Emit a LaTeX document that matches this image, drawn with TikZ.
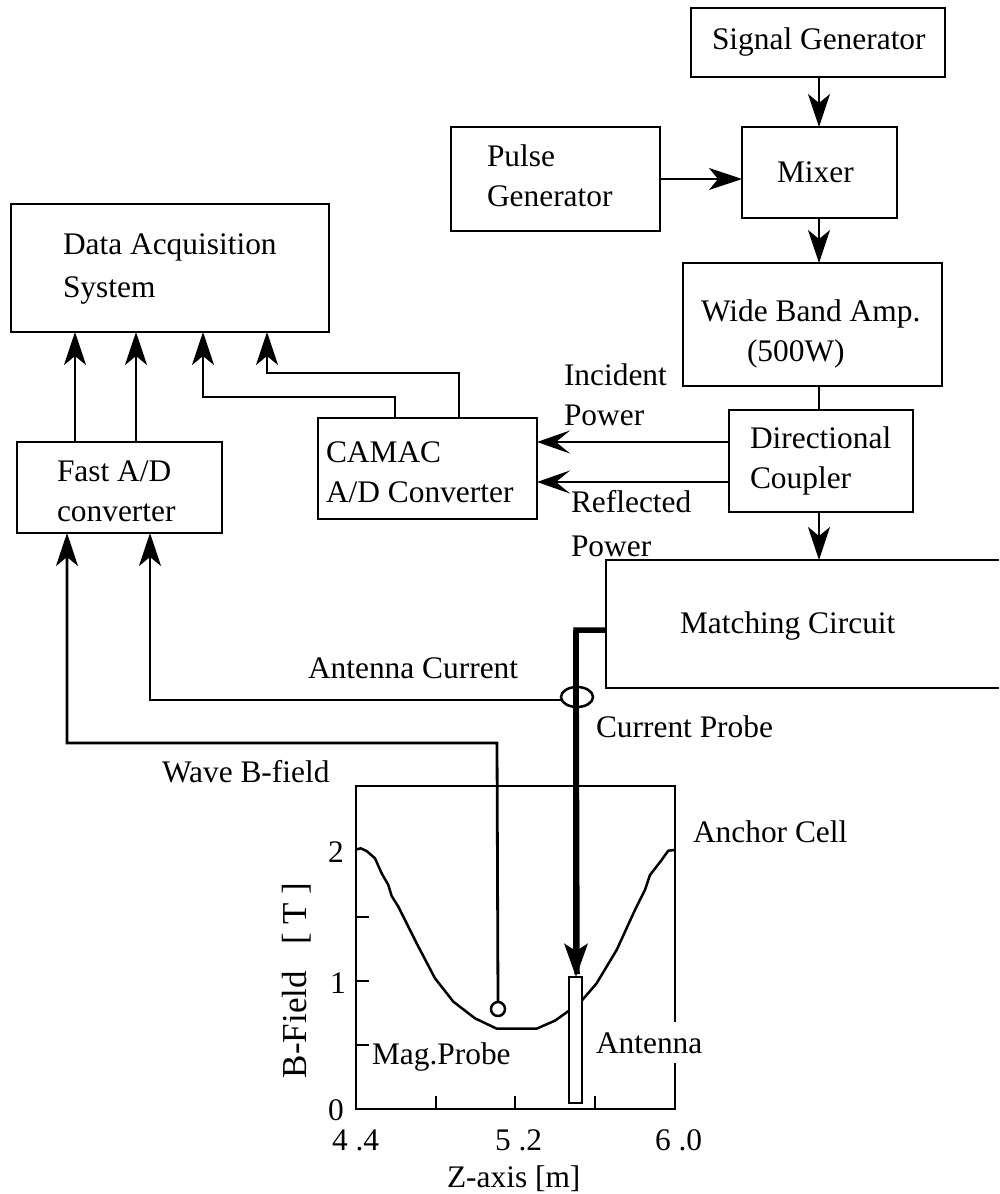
\documentclass[tikz,border=0pt]{standalone}
\usepackage{fontspec}
\setmainfont{Liberation Serif}
\usetikzlibrary{arrows.meta,shapes.geometric}
\tikzset{
  box/.style={draw,rectangle,line width=2.8pt,inner sep=0pt,outer sep=0pt},
  ghost/.style={rectangle,inner sep=0pt,outer sep=0pt},
  txt/.style={inner sep=0pt,outer sep=0pt,anchor=base west,align=left,font=\fontsize{31.4}{40}\selectfont},
  wire/.style={line width=2.8pt,line join=miter},
  arr/.style={wire,-{Stealth[length=33pt,width=22pt,inset=9pt]}},
  arrdeep/.style={wire,-{Stealth[length=33pt,width=23pt,inset=14pt]}},
  thickwire/.style={line width=5.5pt,line join=miter},
  tick/.style={line width=2.6pt},
  curve/.style={line width=2.5pt,line join=round}
}
\begin{document}
\begin{tikzpicture}[x=1pt,y=-1pt]
\useasboundingbox (0,0) rectangle (999,1194);
% boxes
\node[box,minimum width=254pt,minimum height=69pt] (sig) at (818,42.5) {};
\node[box,minimum width=155pt,minimum height=91pt] (mix) at (819.5,172.5) {};
\node[box,minimum width=209pt,minimum height=104pt] (pulse) at (555.5,179) {};
\node[box,minimum width=259pt,minimum height=123pt] (amp) at (812.5,324.5) {};
\node[box,minimum width=184pt,minimum height=102pt] (coup) at (821,461) {};
\node[ghost,minimum width=393pt,minimum height=128pt] (match) at (802.5,624) {};
\node[box,minimum width=318pt,minimum height=128pt] (daq) at (170,268) {};
\node[box,minimum width=205pt,minimum height=91pt] (fast) at (119.5,487.5) {};
\node[box,minimum width=219pt,minimum height=101pt] (cam) at (427.5,468.5) {};
\node[ghost,minimum width=319pt,minimum height=323pt] (plot) at (515.5,947.5) {};
% guide coordinates
\coordinate (spine) at (819,0);
\coordinate (inc) at (729,442);
\coordinate (ref) at (729,482);
\coordinate (f1) at (75,442);
\coordinate (f2) at (136,442);
\coordinate (c1) at (395,418);
\coordinate (c2) at (459,418);
\coordinate (d1) at (203,397);
\coordinate (d2) at (267,373);
\coordinate (in1) at (67,533);
\coordinate (in2) at (150,533);
\coordinate (b1) at (497,743);
\coordinate (b2) at (150,700);
\coordinate (m1) at (576,630);
\coordinate (gapt) at (675,1022);
\coordinate (gapb) at (675,1063);
% matching circuit (open on the right) and plot frame
\draw[wire] (match.north east) -- (match.north west) -- (match.south west) -- (match.south east);
\draw[wire] (gapb) -- (plot.south east) -- (plot.south west) -- (plot.north west) -- (plot.north east) -- (gapt);
% ticks
\draw[tick] (356,917) -- ++(13,0);
\draw[tick] (356,981) -- ++(13,0);
\draw[tick] (356,1045) -- ++(13,0);
\draw[tick] (436,1109) -- ++(0,-13);
\draw[tick] (515,1109) -- ++(0,-13);
\draw[tick] (595,1109) -- ++(0,-13);
% field curve
\begin{scope}[shift={(340,770)},x=0.3333pt,y=-0.3333pt]
\draw[curve] (50,238) -- (62,235) -- (80,243) -- (105,265) -- (125,310) -- (145,345) -- (155,378) -- (175,410) -- (230,520) -- (285,625) -- (340,695) -- (405,745) -- (470,776) -- (590,776) -- (645,752) -- (690,720) -- (727,690) -- (770,640) -- (830,540) -- (885,420) -- (915,360) -- (930,315) -- (965,270) -- (985,242) -- (1005,240);
\end{scope}
% connectors in the chain
\draw[arr] (spine |- sig.south) -- (spine |- mix.north);
\draw[arr] (spine |- mix.south) -- (spine |- amp.north);
\draw[wire] (spine |- amp.south) -- (spine |- coup.north);
\draw[arr] (spine |- coup.south) -- (spine |- match.north);
\draw[arr] (pulse.east) -- (pulse.east -| mix.west);
\draw[arrdeep] (inc) -- (inc -| cam.east);
\draw[arrdeep] (ref) -- (ref -| cam.east);
\draw[arr] (f1) -- (f1 |- daq.south);
\draw[arr] (f2) -- (f2 |- daq.south);
\draw[arr] (c1) |- (d1) -- (d1 |- daq.south);
\draw[arr] (c2) |- (d2) -- (d2 |- daq.south);
% probes and antenna
\node[draw,circle,line width=2.5pt,minimum size=14pt,inner sep=0pt,outer sep=0pt] (probe) at (498,1009) {};
\node[box,fill=white,minimum width=13pt,minimum height=126pt] (ant) at (575.5,1040) {};
\node[draw,ellipse,line width=2.5pt,minimum width=32pt,minimum height=20pt,inner sep=0pt,outer sep=0pt] (cp) at (577,697) {};
\draw[arr] (probe.north) -- (b1) -| (in1);
\draw[arr] (cp.west |- b2) -- (b2) -- (in2);
\draw[thickwire] (match.west |- m1) -- (m1) -- ([yshift=3pt]cp.center |- ant.north);
\draw[line width=5.5pt,-{Stealth[length=33pt,width=23pt,inset=7pt]}] (m1) -- (m1 |- ant.north);
% texts
\node[txt] (t1) at (712,49) {Signal Generator};
\node[txt] (t2) at (487,206) {Pulse\\Generator};
\node[txt] (t3) at (777,182) {Mixer};
\node[txt] (t4) at (701,361) {Wide Band Amp.\\\hspace*{46pt}(500W)};
\node[txt] (t5) at (750,488) {Directional\\Coupler};
\node[txt] (t6) at (564,425) {Incident\\Power};
\node[txt,font=\fontsize{31.4}{44}\selectfont] (t7) at (571,556) {Reflected\\Power};
\node[txt] (t8) at (680,633) {Matching Circuit};
\node[txt] (t9) at (596,737) {Current Probe};
\node[txt] (t10) at (308,678) {Antenna Current};
\node[txt] (t11) at (162,782) {Wave B-field};
\node[txt] (t12) at (693,842) {Anchor Cell};
\node[txt] (t13) at (596,1053) {Antenna};
\node[txt] (t14) at (372,1064) {Mag.Probe};
\node[txt,font=\fontsize{31.4}{43}\selectfont] (t15) at (63,297) {Data Acquisition\\System};
\node[txt] (t16) at (57,521) {Fast A/D\\converter};
\node[txt] (t17) at (326,502) {CAMAC\\A/D Converter};
\node[txt] (y2) at (328,862) {2};
\node[txt] (y1) at (330,993) {1};
\node[txt] (y0) at (328,1120) {0};
\node[txt] (x1) at (332,1150) {4 .4};
\node[txt] (x2) at (495,1150) {5 .2};
\node[txt] (x3) at (655,1150) {6 .0};
\node[txt] (xl) at (447,1187) {Z-axis [m]};
\node[txt,font=\fontsize{35}{40}\selectfont,rotate=90] (yl) at (306,1078) {B-Field\ \ \ [ T ]};
\end{tikzpicture}
\end{document}
